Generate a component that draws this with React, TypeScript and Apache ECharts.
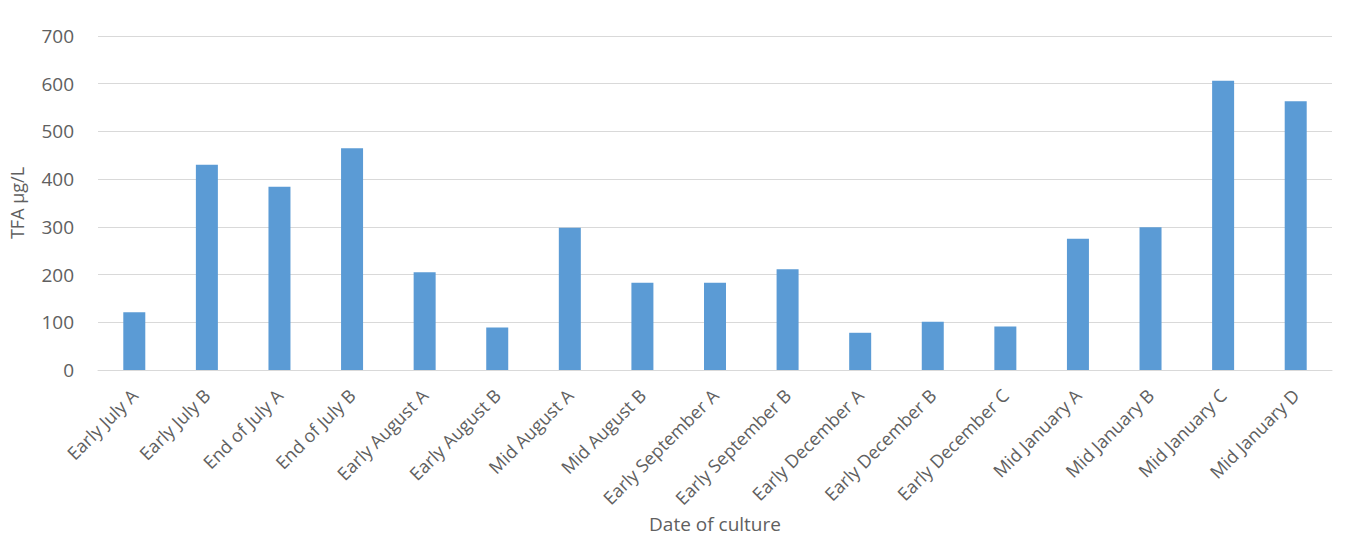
import React, { useEffect, useRef } from "react";
import * as echarts from "echarts";

// Sampling dates of each culture
const categories = [
  "Early July A",
  "Early July B",
  "End of July A",
  "End of July B",
  "Early August A",
  "Early August B",
  "Mid August A",
  "Mid August B",
  "Early September A",
  "Early September B",
  "Early December A",
  "Early December B",
  "Early December C",
  "Mid January A",
  "Mid January B",
  "Mid January C",
  "Mid January D",
];

// Total fatty acids (µg/L) per culture
const tfaValues = [121, 430, 384, 465, 205, 89, 298, 183, 183, 211, 78, 101, 91, 275, 299, 606, 563];

const yAxisName = "TFA µg/L";
const xAxisName = "Date of culture";

const FONT = "'Open Sans', 'Liberation Sans', sans-serif";
const TEXT_COLOR = "#606060";

export default function App() {
  const ref = useRef<HTMLDivElement>(null);

  useEffect(() => {
    if (!ref.current) return;
    const chart = echarts.init(ref.current, undefined, { renderer: "svg" });
    chart.setOption({
      animation: false,
      backgroundColor: "#ffffff",
      textStyle: { fontFamily: FONT },
      grid: {
        left: 98,
        right: 13,
        top: 36,
        bottom: 168,
        containLabel: false,
        outerBoundsMode: "none",
      },
      xAxis: {
        type: "category",
        data: categories,
        name: xAxisName,
        nameLocation: "middle",
        nameGap: 143,
        nameTextStyle: { color: TEXT_COLOR, fontSize: 19, fontFamily: FONT },
        axisLine: { show: true, lineStyle: { color: "#d9d9d9", width: 1 } },
        axisTick: { show: false },
        axisLabel: {
          interval: 0,
          rotate: 45,
          color: TEXT_COLOR,
          fontSize: 18,
          fontFamily: FONT,
          margin: 22,
        },
      },
      yAxis: {
        type: "value",
        min: 0,
        max: 700,
        interval: 100,
        name: yAxisName,
        nameLocation: "middle",
        nameGap: 72,
        nameRotate: 90,
        nameTextStyle: { color: TEXT_COLOR, fontSize: 18, fontFamily: FONT },
        axisLine: { show: false },
        axisTick: { show: false },
        axisLabel: { color: TEXT_COLOR, fontSize: 19, fontFamily: FONT, margin: 24 },
        splitLine: { lineStyle: { color: "#d9d9d9", width: 1 } },
      },
      series: [
        {
          type: "bar",
          data: tfaValues,
          barWidth: 22,
          itemStyle: { color: "#5b9bd5" },
        },
      ],
    });
    return () => chart.dispose();
  }, []);

  return <div ref={ref} style={{ width: 1345, height: 538, position: "absolute", left: 0, top: 0 }} />;
}
